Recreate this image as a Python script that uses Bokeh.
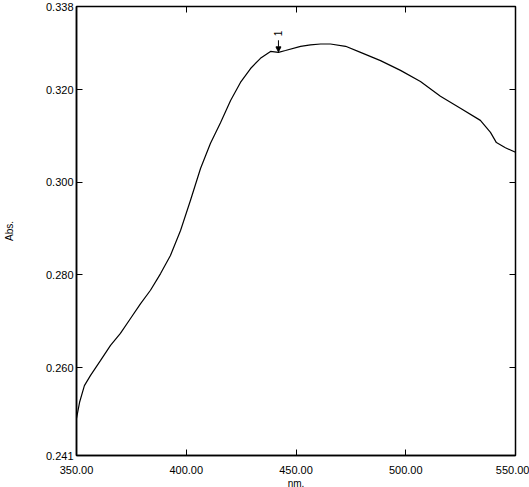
import numpy as np
from bokeh.plotting import figure
from bokeh.models import (FixedTicker, PrintfTickFormatter, LinearAxis, Range1d,
                          Arrow, NormalHead, Label, CustomJSTickFormatter)
from bokeh.embed import file_html
from bokeh.resources import INLINE

# wavelength (nm) and absorbance
wavelength = [350.0, 351.4, 353.6, 356.4, 360.9, 365.5, 370.0, 374.6, 379.2, 383.7,
              388.3, 392.8, 397.4, 401.9, 406.5, 411.0, 415.6, 420.2, 424.7, 429.3,
              433.8, 438.4, 442.0, 445.2, 452.1, 456.6, 461.2, 465.7, 472.6, 479.4,
              488.5, 497.6, 506.7, 515.8, 524.9, 534.0, 538.6, 541.3, 545.4, 550.0]
absorbance = [0.2490, 0.2525, 0.2561, 0.2583, 0.2615, 0.2648, 0.2674, 0.2706, 0.2738, 0.2767,
              0.2803, 0.2842, 0.2896, 0.2961, 0.3030, 0.3084, 0.3129, 0.3177, 0.3216, 0.3246,
              0.3268, 0.3283, 0.3281, 0.3285, 0.3294, 0.3297, 0.3299, 0.3299, 0.3294, 0.3281,
              0.3263, 0.3242, 0.3218, 0.3186, 0.3160, 0.3134, 0.3108, 0.3086, 0.3075, 0.3065]

x_ticks = [350, 400, 450, 500, 550]
y_ticks = [0.241, 0.260, 0.280, 0.300, 0.320, 0.338]

peak_nm = 442.0
peak_label = "1"
arrow_top = 0.3307
arrow_tip = 0.3282
label_y = 0.3322

FONT = "Liberation Sans"

p = figure(frame_width=439, frame_height=449,
           x_range=Range1d(350, 550), y_range=Range1d(0.241, 0.338),
           output_backend="svg", toolbar_location=None,
           min_border_left=76, min_border_right=14, min_border_top=6, min_border_bottom=32,
           x_axis_label="nm.", y_axis_label="Abs.")
p.grid.visible = False
p.outline_line_color = "black"
p.outline_line_width = 1.5
p.background_fill_color = "white"
p.border_fill_color = "white"

for ax in p.xaxis:
    ax.ticker = FixedTicker(ticks=x_ticks)
    ax.formatter = PrintfTickFormatter(format="%.2f")
for ax in p.yaxis:
    ax.ticker = FixedTicker(ticks=y_ticks)
    ax.formatter = PrintfTickFormatter(format="%.3f")

for ax in list(p.xaxis) + list(p.yaxis):
    ax.major_tick_in = 6
    ax.major_tick_out = 0
    ax.minor_tick_in = 0
    ax.minor_tick_out = 0
    ax.axis_line_color = "black"
    ax.axis_line_width = 1.5
    ax.major_tick_line_color = "black"
    ax.major_label_text_font = FONT
    ax.major_label_text_font_size = "11px"
    ax.major_label_text_color = "black"
    ax.axis_label_text_font = FONT
    ax.axis_label_text_font_size = "10px"
    ax.axis_label_text_font_style = "normal"
    ax.axis_label_text_color = "black"

p.xaxis.major_label_standoff = 10
p.xaxis.axis_label_standoff = 1
p.yaxis.major_label_standoff = 3
p.yaxis.axis_label_standoff = 28

# mirrored ticks on top and right (no labels)
blank = CustomJSTickFormatter(code="return '';")
top = LinearAxis(ticker=FixedTicker(ticks=x_ticks), formatter=blank,
                 major_tick_in=6, major_tick_out=0, minor_tick_in=0, minor_tick_out=0,
                 major_label_standoff=0, axis_line_color="black")
right = LinearAxis(ticker=FixedTicker(ticks=y_ticks), formatter=blank,
                   major_tick_in=6, major_tick_out=0, minor_tick_in=0, minor_tick_out=0,
                   major_label_standoff=0, axis_line_color="black")
p.add_layout(top, "above")
p.add_layout(right, "right")

p.line(wavelength, absorbance, line_color="black", line_width=1.2)

p.add_layout(Arrow(end=NormalHead(size=5, fill_color="black", line_color="black"),
                   x_start=peak_nm, y_start=arrow_top, x_end=peak_nm, y_end=arrow_tip,
                   line_color="black", line_width=1))
p.add_layout(Label(x=peak_nm, y=label_y, text=peak_label, angle=np.pi / 2,
                   text_font=FONT, text_font_size="10px", text_align="center",
                   text_baseline="middle", text_color="black"))

open("out.html", "w").write(file_html(p, INLINE))
